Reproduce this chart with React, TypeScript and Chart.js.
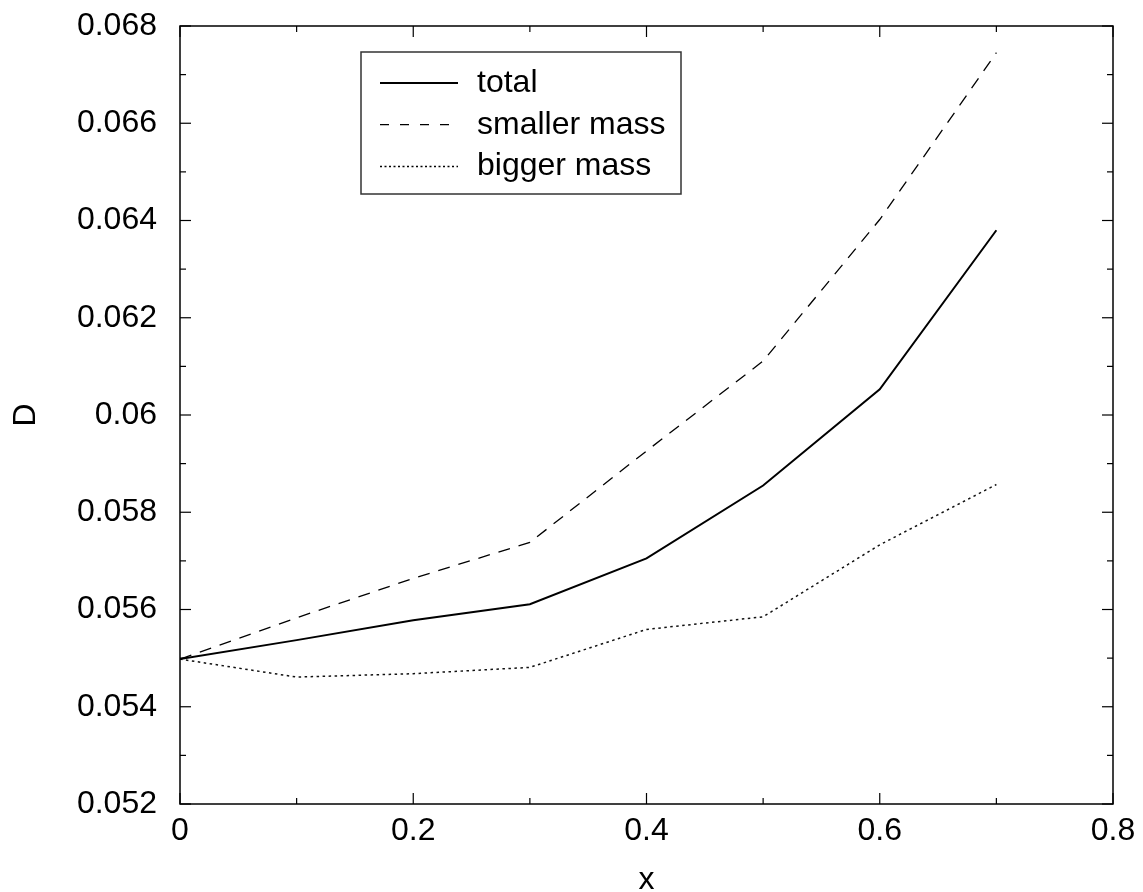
import React, { useEffect, useRef } from "react";
import { Chart, registerables } from "chart.js";

Chart.register(...registerables);

const xValues = [0, 0.1, 0.2, 0.3, 0.4, 0.5, 0.6, 0.7];
const totalValues = [0.05498, 0.05537, 0.05578, 0.05611, 0.05705, 0.05855, 0.06053, 0.0638];
const smallerMassValues = [0.05498, 0.05583, 0.05664, 0.05738, 0.05926, 0.06111, 0.06402, 0.06745];
const biggerMassValues = [0.05498, 0.05461, 0.05468, 0.05481, 0.05559, 0.05585, 0.05733, 0.05857];
const seriesLabels = ["total", "smaller mass", "bigger mass"];

const xMajorTicks = [0, 0.2, 0.4, 0.6, 0.8];
const xMinorTicks = [0.1, 0.3, 0.5, 0.7];
const yMajorTicks = [0.052, 0.054, 0.056, 0.058, 0.06, 0.062, 0.064, 0.066, 0.068];
const yMinorTicks = [0.053, 0.055, 0.057, 0.059, 0.061, 0.063, 0.065, 0.067];

const FONT = "'Liberation Sans', Arial, Helvetica, sans-serif";

const framePlugin = {
  id: "frameTicksLegend",
  afterDraw(chart: any) {
    const { ctx, chartArea, scales } = chart;
    const { left, right, top, bottom } = chartArea;
    const xs = scales.x;
    const ys = scales.y;
    ctx.save();
    ctx.strokeStyle = "#000";
    ctx.lineWidth = 1.5;
    ctx.strokeRect(left, top, right - left, bottom - top);

    const seg = (x1: number, y1: number, x2: number, y2: number) => {
      ctx.beginPath();
      ctx.moveTo(x1, y1);
      ctx.lineTo(x2, y2);
      ctx.stroke();
    };
    const major = 11;
    const minor = 6;
    ctx.lineWidth = 1.2;
    xMajorTicks.forEach((v) => {
      const p = xs.getPixelForValue(v);
      seg(p, bottom, p, bottom - major);
      seg(p, top, p, top + major);
    });
    xMinorTicks.forEach((v) => {
      const p = xs.getPixelForValue(v);
      seg(p, bottom, p, bottom - minor);
      seg(p, top, p, top + minor);
    });
    yMajorTicks.forEach((v) => {
      const p = ys.getPixelForValue(v);
      seg(left, p, left + major, p);
      seg(right, p, right - major, p);
    });
    yMinorTicks.forEach((v) => {
      const p = ys.getPixelForValue(v);
      seg(left, p, left + minor, p);
      seg(right, p, right - minor, p);
    });

    // legend
    const bx = left + 181;
    const by = top + 26;
    const bw = 320;
    const bh = 142;
    ctx.lineWidth = 1.5;
    ctx.strokeStyle = "#333";
    ctx.fillStyle = "#fff";
    ctx.fillRect(bx, by, bw, bh);
    ctx.strokeRect(bx, by, bw, bh);
    const datasets = chart.data.datasets;
    ctx.font = `32px ${FONT}`;
    ctx.textBaseline = "middle";
    ctx.textAlign = "left";
    datasets.forEach((ds: any, i: number) => {
      const ry = by + 31 + i * 41.7;
      ctx.strokeStyle = "#000";
      ctx.lineWidth = ds.borderWidth;
      ctx.setLineDash(ds.legendDash || []);
      seg(bx + 19, ry, bx + 97, ry);
      ctx.setLineDash([]);
      ctx.fillStyle = "#000";
      ctx.fillText(ds.label, bx + 116, ry);
    });
    ctx.restore();
  },
};

export default function App() {
  const ref = useRef<HTMLCanvasElement | null>(null);
  useEffect(() => {
    if (!ref.current) return;
    const mk = (vals: number[]) => xValues.map((x, i) => ({ x, y: vals[i] }));
    const chart = new Chart(ref.current, {
      type: "line",
      data: {
        datasets: [
          {
            label: seriesLabels[0],
            data: mk(totalValues),
            borderColor: "#000",
            borderWidth: 2,
            pointRadius: 0,
            tension: 0,
            fill: false,
          } as any,
          {
            label: seriesLabels[1],
            data: mk(smallerMassValues),
            borderColor: "#000",
            borderWidth: 1.3,
            borderDash: [12, 9],
            legendDash: [9, 11],
            pointRadius: 0,
            tension: 0,
            fill: false,
          } as any,
          {
            label: seriesLabels[2],
            data: mk(biggerMassValues),
            borderColor: "#111",
            borderWidth: 1.5,
            borderDash: [2.5, 3.5],
            legendDash: [2, 2.5],
            pointRadius: 0,
            tension: 0,
            fill: false,
          } as any,
        ],
      },
      options: {
        animation: false,
        responsive: false,
        maintainAspectRatio: false,
        layout: { padding: { left: 0, right: 30, top: 26, bottom: 0 } },
        plugins: { legend: { display: false }, tooltip: { enabled: false } },
        scales: {
          x: {
            type: "linear",
            min: 0,
            max: 0.8,
            grid: { display: false, drawTicks: false },
            border: { display: false },
            ticks: {
              stepSize: 0.2,
              color: "#000",
              padding: 8,
              font: { family: FONT, size: 32 },
              callback: (v: any) => String(parseFloat(Number(v).toFixed(3))),
            },
            title: {
              display: true,
              text: "x",
              color: "#000",
              font: { family: FONT, size: 32 },
              padding: { top: 0, bottom: -7 },
            },
            afterFit: (s: any) => {
              s.height = 88;
              s.paddingLeft = 0;
              s.paddingRight = 0;
            },
          },
          y: {
            type: "linear",
            min: 0.052,
            max: 0.068,
            grid: { display: false, drawTicks: false },
            border: { display: false },
            ticks: {
              stepSize: 0.002,
              color: "#000",
              padding: 23,
              font: { family: FONT, size: 32 },
              callback: (v: any) => String(parseFloat(Number(v).toFixed(3))),
            },
            title: {
              display: true,
              text: "D",
              color: "#000",
              font: { family: FONT, size: 32 },
              padding: { top: 7, bottom: 0 },
            },
            afterFit: (s: any) => {
              s.width = 180;
              s.paddingTop = 0;
              s.paddingBottom = 0;
            },
          },
        },
      } as any,
      plugins: [framePlugin],
    });
    return () => chart.destroy();
  }, []);
  return (
    <div style={{ position: "fixed", left: 0, top: 0, width: 1143, height: 892, background: "#fff" }}>
      <canvas ref={ref} width={1143} height={892} style={{ display: "block" }} />
    </div>
  );
}
